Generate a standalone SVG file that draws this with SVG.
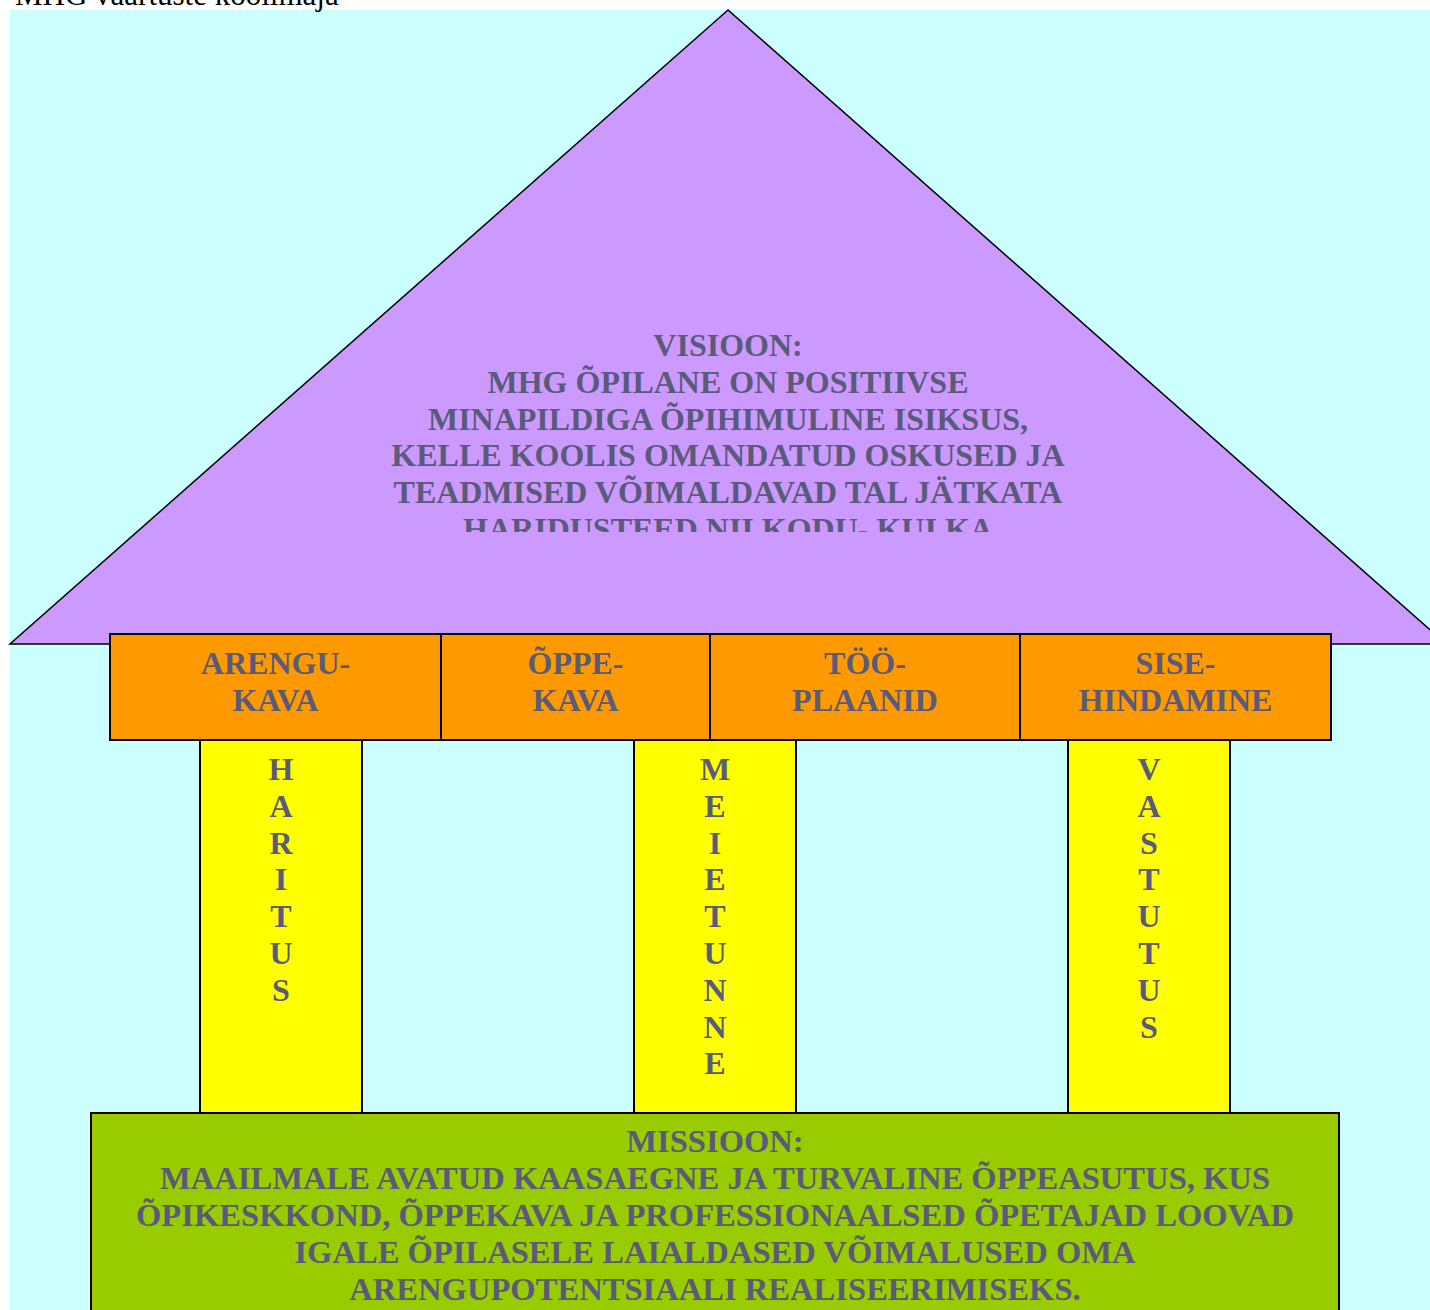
<svg xmlns="http://www.w3.org/2000/svg" width="1430" height="1310" viewBox="0 0 1430 1310">
<style>
.t{font-family:"Liberation Serif","Times New Roman",serif;font-weight:bold;font-size:32px;fill:#5a5a7a;text-anchor:middle}
.m{font-size:32.6px}
.box{stroke:#000;stroke-width:2}
</style>
<defs>
<clipPath id="vclip"><rect x="10" y="300" width="1420" height="232"/></clipPath>
</defs>
<rect x="0" y="0" width="1430" height="1310" fill="#fff"/>
<rect x="10" y="10" width="1420" height="1300" fill="#ccffff"/>
<text x="15" y="5" font-family="'Liberation Serif','Times New Roman',serif" font-size="31" fill="#000">MHG väärtuste koolimaja</text>

<g id="roof">
<polygon points="728,10 10,644 1446,644" fill="#cc99ff" stroke="#000" stroke-width="1.5"/>
<g clip-path="url(#vclip)">
<text class="t"><tspan x="728" y="356">VISIOON:</tspan><tspan x="728" y="393">MHG ÕPILANE ON POSITIIVSE</tspan><tspan x="728" y="429.6">MINAPILDIGA ÕPIHIMULINE ISIKSUS,</tspan><tspan x="728" y="466.4">KELLE KOOLIS OMANDATUD OSKUSED JA</tspan><tspan x="728" y="503.2">TEADMISED VÕIMALDAVAD TAL JÄTKATA</tspan><tspan x="728" y="540">HARIDUSTEED NII KODU- KUI KA</tspan></text>
</g>
</g>

<g id="pillar1">
<rect class="box" x="200" y="740" width="162" height="373" fill="#ffff00"/>
<text class="t"><tspan x="281" y="780">H</tspan><tspan x="281" y="816.8">A</tspan><tspan x="281" y="853.6">R</tspan><tspan x="281" y="890.4">I</tspan><tspan x="281" y="927.2">T</tspan><tspan x="281" y="964">U</tspan><tspan x="281" y="1000.8">S</tspan></text>
</g>
<g id="pillar2">
<rect class="box" x="634" y="740" width="162" height="373" fill="#ffff00"/>
<text class="t"><tspan x="715" y="780">M</tspan><tspan x="715" y="816.8">E</tspan><tspan x="715" y="853.6">I</tspan><tspan x="715" y="890.4">E</tspan><tspan x="715" y="927.2">T</tspan><tspan x="715" y="964">U</tspan><tspan x="715" y="1000.8">N</tspan><tspan x="715" y="1037.6">N</tspan><tspan x="715" y="1074.4">E</tspan></text>
</g>
<g id="pillar3">
<rect class="box" x="1068" y="740" width="162" height="373" fill="#ffff00"/>
<text class="t"><tspan x="1149" y="780">V</tspan><tspan x="1149" y="816.8">A</tspan><tspan x="1149" y="853.6">S</tspan><tspan x="1149" y="890.4">T</tspan><tspan x="1149" y="927.2">U</tspan><tspan x="1149" y="964">T</tspan><tspan x="1149" y="1000.8">U</tspan><tspan x="1149" y="1037.6">S</tspan></text>
</g>

<g id="arengukava">
<rect class="box" x="110" y="634" width="331" height="106" fill="#ff9900"/>
<text class="t"><tspan x="275.5" y="674">ARENGU-</tspan><tspan x="275.5" y="711">KAVA</tspan></text>
</g>
<g id="oppekava">
<rect class="box" x="441" y="634" width="269" height="106" fill="#ff9900"/>
<text class="t"><tspan x="575.5" y="674">ÕPPE-</tspan><tspan x="575.5" y="711">KAVA</tspan></text>
</g>
<g id="tooplaanid">
<rect class="box" x="710" y="634" width="310" height="106" fill="#ff9900"/>
<text class="t"><tspan x="865" y="674">TÖÖ-</tspan><tspan x="865" y="711">PLAANID</tspan></text>
</g>
<g id="sisehindamine">
<rect class="box" x="1020" y="634" width="311" height="106" fill="#ff9900"/>
<text class="t"><tspan x="1175.5" y="674">SISE-</tspan><tspan x="1175.5" y="711">HINDAMINE</tspan></text>
</g>

<g id="missioon">
<rect class="box" x="91" y="1113" width="1248" height="220" fill="#99cc00"/>
<text class="t m"><tspan x="715" y="1152">MISSIOON:</tspan><tspan x="715" y="1189">MAAILMALE AVATUD KAASAEGNE JA TURVALINE ÕPPEASUTUS, KUS</tspan><tspan x="715" y="1226">ÕPIKESKKOND, ÕPPEKAVA JA PROFESSIONAALSED ÕPETAJAD LOOVAD</tspan><tspan x="715" y="1263">IGALE ÕPILASELE LAIALDASED VÕIMALUSED OMA</tspan><tspan x="715" y="1300">ARENGUPOTENTSIAALI REALISEERIMISEKS.</tspan></text>
</g>
<g id="connectors"></g>
</svg>
